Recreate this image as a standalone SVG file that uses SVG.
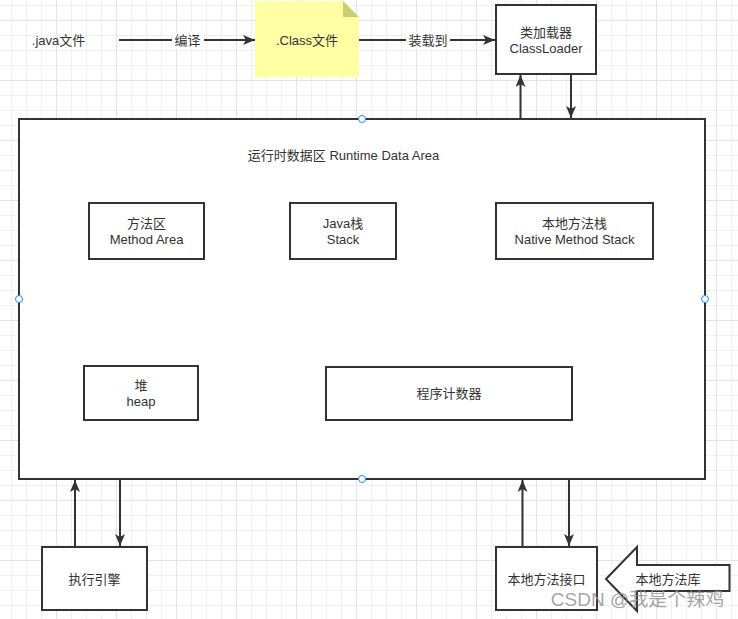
<svg xmlns="http://www.w3.org/2000/svg" width="738" height="619" viewBox="0 0 738 619">
<style>
.box{fill:#ffffff;stroke:#333333;stroke-width:2}
.ln{fill:none;stroke:#333333;stroke-width:2}
.t{font-family:"Liberation Sans","Noto Sans CJK SC",sans-serif;font-size:13px;fill:#333333;text-anchor:middle}
.pt{fill:#ffffff;stroke:#1a8cff;stroke-width:1}
</style>
<defs>
<pattern id="grid" x="56" y="20" width="60" height="60" patternUnits="userSpaceOnUse">
<path d="M15.5,0V60M30.5,0V60M45.5,0V60M0,15.5H60M0,30.5H60M0,45.5H60" stroke="#f0f0f0" stroke-width="1" fill="none"/>
<path d="M0.5,0V60M0,0.5H60" stroke="#e3e3e3" stroke-width="1" fill="none"/>
</pattern>
<marker id="ah" viewBox="0 0 12 10" refX="12" refY="5" markerWidth="12" markerHeight="10" markerUnits="userSpaceOnUse" orient="auto">
<path d="M0,0 L12,5 L0,10 L3,5 Z" fill="#333333"/>
</marker>
</defs>
<rect width="738" height="619" fill="#ffffff"/>
<rect width="738" height="619" fill="url(#grid)"/>

<g id="runtime-data-area">
<rect class="box" x="19" y="119" width="686" height="360"/>
<text class="t" x="343.5" y="159.5">运行时数据区 Runtime Data Area</text>
</g>

<g id="connectors">
<line class="ln" x1="119" y1="40" x2="255" y2="40" marker-end="url(#ah)"/>
<rect x="172" y="31" width="32" height="18" fill="#ffffff"/>
<text class="t" x="187.5" y="45">编译</text>
<line class="ln" x1="359" y1="40" x2="495" y2="40" marker-end="url(#ah)"/>
<rect x="406" y="31" width="44" height="18" fill="#ffffff"/>
<text class="t" x="428" y="45">装载到</text>
<line class="ln" x1="520.5" y1="118" x2="520.5" y2="75" marker-end="url(#ah)"/>
<line class="ln" x1="571" y1="75" x2="571" y2="118" marker-end="url(#ah)"/>
<line class="ln" x1="75" y1="547" x2="75" y2="480" marker-end="url(#ah)"/>
<line class="ln" x1="120" y1="480" x2="120" y2="546" marker-end="url(#ah)"/>
<line class="ln" x1="522.5" y1="547" x2="522.5" y2="480" marker-end="url(#ah)"/>
<line class="ln" x1="569" y1="480" x2="569" y2="546" marker-end="url(#ah)"/>
</g>

<g id="java-file">
<text class="t" x="58.5" y="45">.java文件</text>
</g>

<g id="class-file">
<path d="M255,1 H343 L359,17 V77 H255 Z" fill="#ffffa3"/>
<path d="M343,1 L359,17 H343 Z" fill="#cccc70"/>
<text class="t" x="307" y="45">.Class文件</text>
</g>

<g id="class-loader">
<rect class="box" x="496" y="5" width="100" height="69"/>
<text class="t" x="546" y="36.5">类加载器</text>
<text class="t" x="546" y="52.5">ClassLoader</text>
</g>

<g id="method-area">
<rect class="box" x="89" y="203" width="115" height="56"/>
<text class="t" x="146.5" y="228">方法区</text>
<text class="t" x="146.5" y="244">Method Area</text>
</g>

<g id="java-stack">
<rect class="box" x="290" y="203" width="106" height="56"/>
<text class="t" x="343" y="228">Java栈</text>
<text class="t" x="343" y="244">Stack</text>
</g>

<g id="native-method-stack">
<rect class="box" x="496" y="203" width="157" height="56"/>
<text class="t" x="574.5" y="228">本地方法栈</text>
<text class="t" x="574.5" y="244">Native Method Stack</text>
</g>

<g id="heap">
<rect class="box" x="84" y="366" width="114" height="54"/>
<text class="t" x="141" y="389.5">堆</text>
<text class="t" x="141" y="405.5">heap</text>
</g>

<g id="pc-register">
<rect class="box" x="326" y="367" width="246" height="53"/>
<text class="t" x="449" y="398">程序计数器</text>
</g>

<g id="execution-engine">
<rect class="box" x="42" y="547" width="105" height="63"/>
<text class="t" x="94.5" y="583.5">执行引擎</text>
</g>

<g id="native-interface">
<rect class="box" x="496" y="547" width="101" height="63"/>
<text class="t" x="546.5" y="583.5">本地方法接口</text>
</g>

<g id="native-library">
<path class="box" d="M606,579 L637,547 V565 H729.5 V591 H637 V611 Z"/>
<text class="t" x="668" y="583.5">本地方法库</text>
</g>

<g id="points">
<circle class="pt" cx="362" cy="119" r="3.5"/>
<circle class="pt" cx="19" cy="299" r="3.5"/>
<circle class="pt" cx="705" cy="299" r="3.5"/>
<circle class="pt" cx="362" cy="479" r="3.5"/>
</g>

<text x="637.5" y="606" font-family="Liberation Sans,Noto Sans CJK SC,sans-serif" font-size="19" fill="#8c8c8c" fill-opacity="0.8" text-anchor="middle">CSDN @我是个辣鸡</text>
</svg>
